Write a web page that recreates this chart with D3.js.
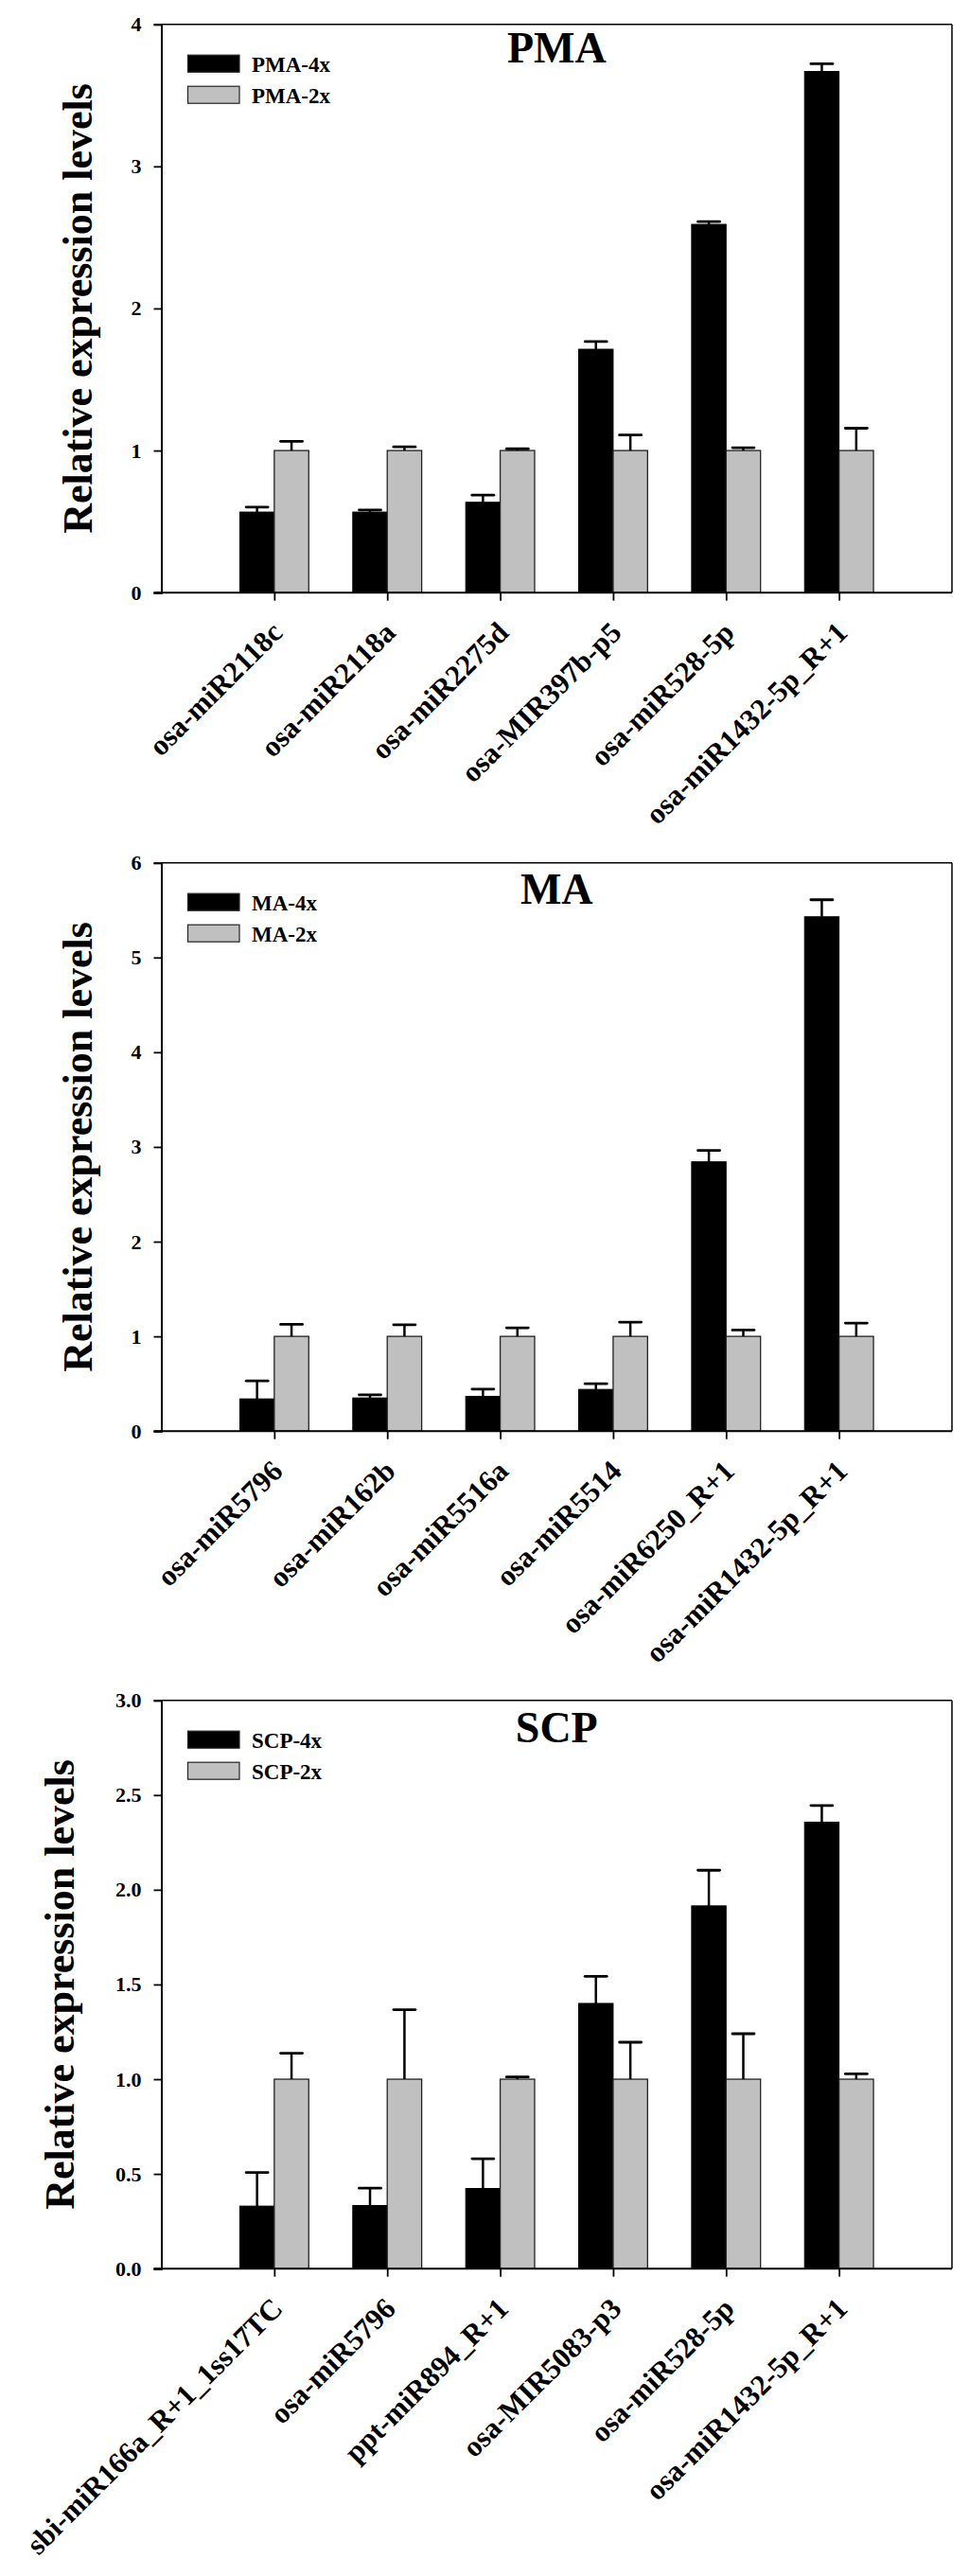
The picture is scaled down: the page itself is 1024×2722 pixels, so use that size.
<!DOCTYPE html>
<html>
<head>
<meta charset="utf-8">
<script src="https://cdn.jsdelivr.net/npm/d3@7/dist/d3.min.js"></script>
<style>
  html, body { margin: 0; padding: 0; background: #fff; }
  svg { display: block; }
  text { font-family: "Liberation Serif", "Times New Roman", serif; font-weight: bold; fill: #000; }
</style>
</head>
<body>
<svg id="chart" width="1024" height="2722"></svg>
<script>
// ---------------- DATA ----------------
const pmaCategories = ["osa-miR2118c", "osa-miR2118a", "osa-miR2275d", "osa-MIR397b-p5", "osa-miR528-5p", "osa-miR1432-5p_R+1"];
const pma4x = [0.567, 0.567, 0.636, 1.713, 2.592, 3.668];
const pma4xErr = [0.035, 0.015, 0.050, 0.054, 0.019, 0.054];
const pma2x = [1, 1, 1, 1, 1, 1];
const pma2xErr = [0.065, 0.026, 0.012, 0.109, 0.020, 0.157];
const pmaTicks = [0, 1, 2, 3, 4];

const maCategories = ["osa-miR5796", "osa-miR162b", "osa-miR5516a", "osa-miR5514", "osa-miR6250_R+1", "osa-miR1432-5p_R+1"];
const ma4x = [0.34, 0.35, 0.367, 0.44, 2.843, 5.43];
const ma4xErr = [0.19, 0.033, 0.076, 0.06, 0.12, 0.18];
const ma2x = [1, 1, 1, 1, 1, 1];
const ma2xErr = [0.127, 0.123, 0.09, 0.15, 0.067, 0.14];
const maTicks = [0, 1, 2, 3, 4, 5, 6];

const scpCategories = ["sbi-miR166a_R+1_1ss17TC", "osa-miR5796", "ppt-miR894_R+1", "osa-MIR5083-p3", "osa-miR528-5p", "osa-miR1432-5p_R+1"];
const scp4x = [0.33, 0.333, 0.423, 1.40, 1.915, 2.357];
const scp4xErr = [0.177, 0.092, 0.157, 0.143, 0.188, 0.088];
const scp2x = [1, 1, 1, 1, 1, 1];
const scp2xErr = [0.137, 0.367, 0.012, 0.195, 0.24, 0.028];
const scpTicks = [0, 0.5, 1.0, 1.5, 2.0, 2.5, 3.0];

const panelTitles = ["PMA", "MA", "SCP"];
const seriesNames = [["PMA-4x", "PMA-2x"], ["MA-4x", "MA-2x"], ["SCP-4x", "SCP-2x"]];
const yLabel = "Relative expression levels";

// ---------------- LAYOUT / STYLE ----------------
const panels = [
  { cats: pmaCategories, s1: pma4x, e1: pma4xErr, s2: pma2x, e2: pma2xErr, ticks: pmaTicks, fmt: d3.format("d"),   top: 25.7,  ylabX: 97, titleDy: 40 },
  { cats: maCategories,  s1: ma4x,  e1: ma4xErr,  s2: ma2x,  e2: ma2xErr,  ticks: maTicks,  fmt: d3.format("d"),   top: 911.7, ylabX: 97, titleDy: 43 },
  { cats: scpCategories, s1: scp4x, e1: scp4xErr, s2: scp2x, e2: scp2xErr, ticks: scpTicks, fmt: d3.format(".1f"), top: 1796.7, ylabX: 78, titleDy: 44 }
];
const L = 170.5, R = 1006, PH = 600.5;
const GRAY = "#c0c0c0";

const svg = d3.select("#chart");

panels.forEach((p, pi) => {
  const top = p.top, bottom = top + PH;
  const g = svg.append("g");

  const x = d3.scalePoint().domain(p.cats).range([L, R]).padding(1);
  const y = d3.scaleLinear().domain([p.ticks[0], p.ticks[p.ticks.length - 1]]).range([bottom, top]);
  const bw = x.step() * 0.305;

  // bars
  const rows = p.cats.map((c, i) => ({ c, v1: p.s1[i], e1: p.e1[i], v2: p.s2[i], e2: p.e2[i] }));
  g.selectAll("rect.b1").data(rows).join("rect")
    .attr("x", d => x(d.c) - bw).attr("y", d => y(d.v1))
    .attr("width", bw).attr("height", d => y(0) - y(d.v1))
    .attr("fill", "#000").attr("stroke", "#000").attr("stroke-width", 1);
  g.selectAll("rect.b2").data(rows).join("rect")
    .attr("x", d => x(d.c)).attr("y", d => y(d.v2))
    .attr("width", bw).attr("height", d => y(0) - y(d.v2))
    .attr("fill", GRAY).attr("stroke", "#222").attr("stroke-width", 1.3);

  // error bars (upper only)
  const capW = 23;
  const errs = [];
  rows.forEach(d => {
    errs.push({ cx: x(d.c) - bw / 2, v: d.v1, e: d.e1 });
    errs.push({ cx: x(d.c) + bw / 2, v: d.v2, e: d.e2 });
  });
  const eg = g.selectAll("g.err").data(errs).join("g");
  eg.append("line")
    .attr("x1", d => d.cx).attr("x2", d => d.cx)
    .attr("y1", d => y(d.v)).attr("y2", d => y(d.v + d.e))
    .attr("stroke", "#000").attr("stroke-width", 2.5);
  eg.append("line")
    .attr("x1", d => d.cx - capW / 2).attr("x2", d => d.cx + capW / 2)
    .attr("y1", d => y(d.v + d.e)).attr("y2", d => y(d.v + d.e))
    .attr("stroke", "#000").attr("stroke-width", 2.8).attr("stroke-linecap", "round");

  // frame top/right
  g.append("line").attr("x1", L).attr("x2", R).attr("y1", top).attr("y2", top).attr("stroke", "#000").attr("stroke-width", 1.5);
  g.append("line").attr("x1", R).attr("x2", R).attr("y1", top).attr("y2", bottom).attr("stroke", "#000").attr("stroke-width", 1.5);

  // y axis
  const ya = g.append("g").attr("transform", `translate(${L},0)`)
    .call(d3.axisLeft(y).tickValues(p.ticks).tickFormat(p.fmt).tickSize(8).tickPadding(13));
  ya.select(".domain").attr("stroke-width", 2);
  ya.selectAll(".tick line").attr("stroke-width", 1.8);
  ya.selectAll(".tick text").attr("font-size", 22).attr("font-family", null).attr("fill", "#000");

  // x axis
  const xa = g.append("g").attr("transform", `translate(0,${bottom})`)
    .call(d3.axisBottom(x).tickSize(8.5).tickSizeOuter(0));
  xa.select(".domain").attr("d", `M${L - 8},0H${R}`).attr("stroke-width", 2);
  xa.selectAll(".tick line").attr("stroke-width", 1.8);
  xa.selectAll(".tick text")
    .attr("font-size", 31).attr("font-family", null).attr("fill", "#000")
    .attr("y", null).attr("dy", null)
    .attr("text-anchor", "end")
    .attr("transform", "translate(10,44) rotate(-45)");

  // title
  g.append("text").attr("x", (L + R) / 2).attr("y", top + p.titleDy)
    .attr("text-anchor", "middle").attr("font-size", 46).text(panelTitles[pi]);

  // legend
  const lg = g.append("g");
  [0, 1].forEach(k => {
    const ry = top + 32.5 + k * 33;
    lg.append("rect").attr("x", 198.5).attr("y", ry).attr("width", 54.5).attr("height", 18)
      .attr("fill", k === 0 ? "#000" : GRAY).attr("stroke", "#222").attr("stroke-width", 1.2);
    lg.append("text").attr("x", 266).attr("y", ry + 18).attr("font-size", 23).text(seriesNames[pi][k]);
  });

  // y label
  g.append("text")
    .attr("transform", `translate(${p.ylabX},${(top + bottom) / 2}) rotate(-90)`)
    .attr("text-anchor", "middle").attr("font-size", 44).text(yLabel);
});
</script>
</body>
</html>
